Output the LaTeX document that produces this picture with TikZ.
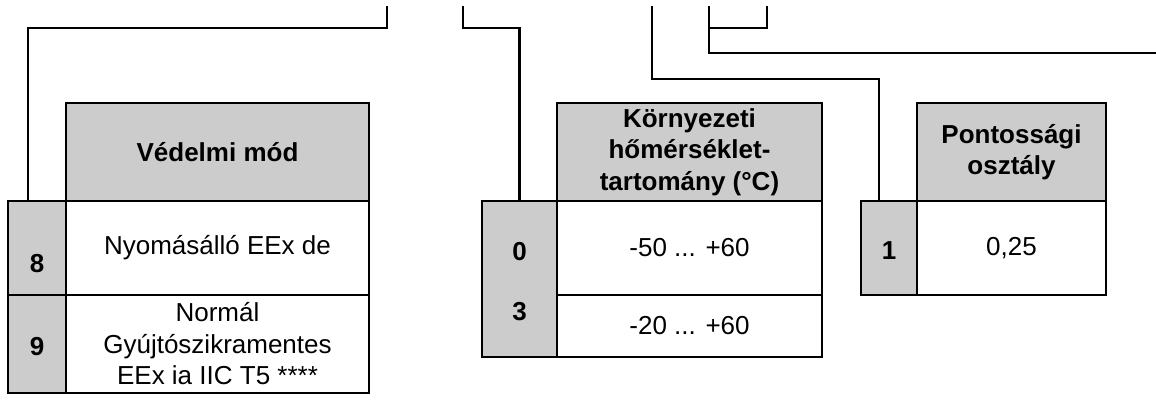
\documentclass[tikz,border=0pt]{standalone}
\usepackage{fontspec}
\setmainfont{Liberation Sans}
\definecolor{cellgray}{RGB}{204,204,204}
\tikzset{
  cell/.style={draw, line width=2.4pt, inner sep=0pt, outer sep=0pt, align=center,
    font=\fontsize{26}{31.5}\selectfont},
  headcell/.style={cell, fill=cellgray, font=\fontsize{26}{31.5}\selectfont\bfseries},
  numcell/.style={cell, fill=cellgray},
  digit/.style={inner sep=0pt, font=\fontsize{26}{31.5}\selectfont\bfseries},
  wire/.style={line width=2.4pt}
}

\begin{document}
\begin{tikzpicture}[x=1pt, y=-1pt]
\useasboundingbox (0,0) rectangle (1156,416);

% vedelmi mod
\node[headcell, minimum width=303pt, minimum height=98pt] (head1) at (217.5,152) {Védelmi mód};
\node[numcell, minimum width=58pt, minimum height=94pt] (num8) at (37,248) {};
\node[cell, minimum width=303pt, minimum height=94pt] (val8) at (217.5,248) {Nyomásálló EEx de};
\node[numcell, minimum width=58pt, minimum height=98pt] (num9) at (37,344) {};
\node[cell, minimum width=303pt, minimum height=98pt] (val9) at (217.5,344) {Normál\\Gyújtószikramentes\\EEx ia IIC T5 ****};
\node[digit] (d8) at (37,264) {8};
\node[digit] (d9) at (37,347) {9};

% homerseklet
\node[headcell, minimum width=265pt, minimum height=98pt] (head2) at (689.5,152) {Környezeti\\hőmérséklet-\\tartomány (°C)};
\node[numcell, minimum width=75pt, minimum height=156pt] (num03) at (519.5,279) {};
\node[cell, minimum width=265pt, minimum height=94pt] (val0) at (689.5,248) {-50 ... +60};
\node[cell, minimum width=265pt, minimum height=62pt] (val3) at (689.5,326) {-20 ... +60};
\node[digit] (d0) at (519.5,252) {0};
\node[digit] (d3) at (519.5,312) {3};

% pontossag
\node[headcell, minimum width=189pt, minimum height=98pt] (head3) at (1011.5,152) {Pontossági\\osztály};
\node[numcell, minimum width=56pt, minimum height=94pt] (num1) at (889,248) {};
\node[cell, minimum width=189pt, minimum height=94pt] (val1) at (1011.5,248) {0,25};
\node[digit] (d1) at (889,251) {1};

% vezetekek
\coordinate (t1) at (387,6);
\coordinate (t2) at (463,6);
\coordinate (t3) at (652,6);
\coordinate (t4) at (709,6);
\coordinate (t5) at (767,6);
\coordinate (j4) at (709,28);
\coordinate (e4) at (1156,53);

\draw[wire] (t1) -- ++(0,22) -| ([xshift=-9pt]num8.north);
\draw[wire] (t2) -- ++(0,22) -| (num03.north);
\draw[wire] (t3) -- ++(0,73) -| ([xshift=-10pt]num1.north);
\draw[wire] (t4) |- (e4);
\draw[wire] (t5) |- (j4);

\end{tikzpicture}
\end{document}
